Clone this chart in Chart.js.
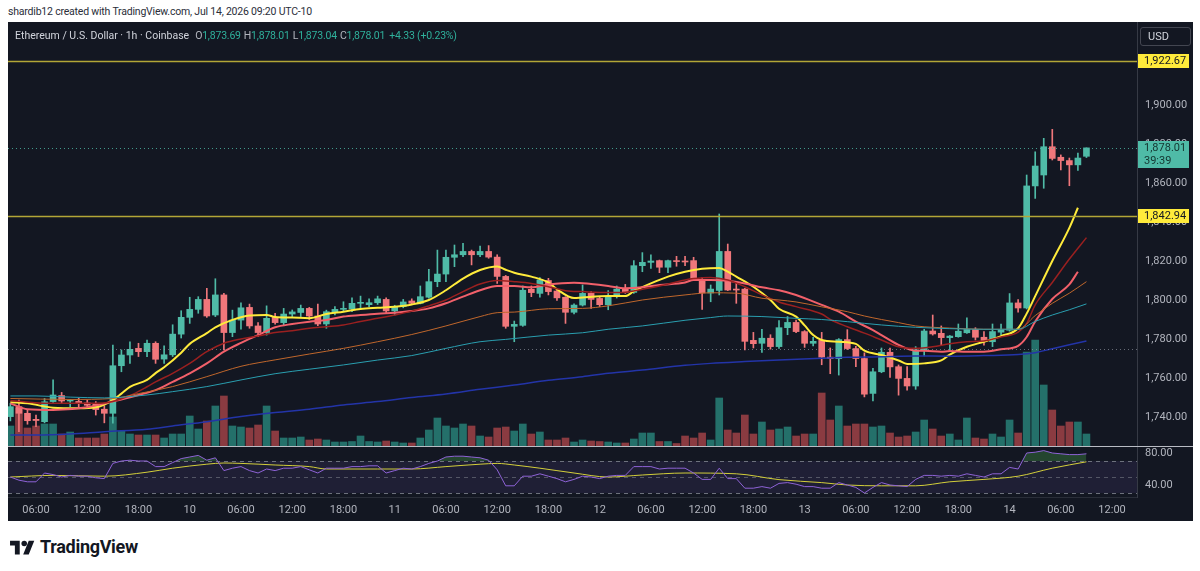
<!DOCTYPE html>
<html lang="en">
<head>
  <meta charset="UTF-8">
  <title>Ethereum / U.S. Dollar · 1h · Coinbase</title>
  <script src="https://cdn.jsdelivr.net/npm/chart.js@4.4.1/dist/chart.umd.min.js"></script>
  <style>
    body { margin: 0; background: #fff; font-family: Roboto, "Noto Sans", Arial, sans-serif; }
    #page { position: relative; width: 1200px; height: 571px; overflow: hidden; }
    #credit { position: absolute; left: 8px; top: 5px; font-size: 10.5px; letter-spacing: -0.2px; color: #2a2e39; }
    #panel { position: absolute; left: 8px; top: 22px; width: 1185px; height: 499px; background: #131722; overflow: hidden; }
    #legend { position: absolute; left: 7px; top: 7px; font-size: 10.5px; color: #d1d4dc; white-space: nowrap; z-index: 2; }
    #legend .k { color: #b2b5be; margin-left: 3px; letter-spacing: -0.2px; }
    #legend .v { color: #2fb09b; letter-spacing: -0.2px; }
    #usd { position: absolute; left: 1132px; top: 5px; width: 42px; height: 17px; border: 1px solid #434651;
           border-radius: 3px; color: #d1d4dc; font-size: 11px; line-height: 17px; padding-left: 7px; z-index: 2; }
    canvas { position: absolute; left: 0; }
    #mainChart { top: -16px; }
    #rsiChart { top: 410px; }
    #sep { position: absolute; left: 0; top: 424px; width: 1185px; height: 1px; background: #b9bcc4; z-index: 2; }
    #logo { position: absolute; left: 10px; top: 536px; display: flex; align-items: center; gap: 5px;
            font-size: 18px; font-weight: 700; color: #131722; letter-spacing: -0.3px; }
  </style>
</head>
<body>
<div id="page">
  <div id="credit">shardib12 created with TradingView.com, Jul 14, 2026 09:20 UTC-10</div>
  <div id="panel">
    <div id="legend"><span>Ethereum / U.S. Dollar · 1h · Coinbase</span><span class="k" style="margin-left:6px">O</span><span class="v">1,873.69</span><span class="k">H</span><span class="v">1,878.01</span><span class="k">L</span><span class="v">1,873.04</span><span class="k">C</span><span class="v">1,878.01</span><span class="v" style="margin-left:4px">+4.33 (+0.23%)</span></div>
    <div id="usd">USD</div>
    <canvas id="mainChart" width="1185" height="456"></canvas>
    <canvas id="rsiChart" width="1185" height="90"></canvas>
    <div id="sep"></div>
  </div>
  <div id="logo">
    <svg width="25" height="18" viewBox="0 0 36 26"><path d="M14 24H7V11H0V4h14z" fill="#131722"/><circle cx="20.5" cy="8" r="4" fill="#131722"/><path d="M27 24h-8l8-20h8z" fill="#131722"/></svg>
    <span>TradingView</span>
  </div>
</div>

<script>
  // 1h candles, Jul 9 03:00 -> Jul 14 09:00 (index 0..126)
  const openP = [
    1740.2,1745.3,1741.9,1738.8,1737.6,1747.9,1751.0,1748.2,1748.0,1747.2,
    1746.5,1744.0,1741.9,1766.3,1771.8,1775.2,1773.5,1777.8,1769.7,1771.9,
    1782.5,1791.1,1795.2,1800.3,1792.3,1802.6,1783.3,1789.7,1796.2,1786.7,
    1783.3,1791.2,1788.4,1792.8,1793.6,1795.7,1791.8,1787.7,1794.0,1795.2,
    1795.4,1798.3,1797.6,1798.6,1800.3,1794.4,1796.6,1799.5,1798.3,1801.4,
    1809.4,1813.3,1821.9,1823.2,1824.9,1823.2,1824.9,1822.0,1812.1,1786.5,
    1787.0,1805.5,1803.4,1810.0,1804.6,1801.4,1793.7,1797.4,1803.4,1800.8,
    1797.6,1801.7,1805.6,1803.9,1817.6,1819.3,1820.2,1816.8,1820.2,1820.0,
    1820.2,1810.6,1803.6,1804.9,1824.9,1805.6,1805.6,1779.3,1777.8,1780.4,
    1776.1,1785.8,1788.5,1783.8,1777.8,1779.3,1770.7,1769.9,1779.7,1775.1,
    1770.0,1752.1,1763.2,1773.2,1765.8,1759.8,1755.9,1774.4,1784.1,1782.9,
    1780.7,1781.2,1783.2,1784.9,1780.9,1778.6,1783.5,1784.5,1798.5,1795.9,
    1858.5,1864.1,1878.6,1873.2,1871.5,1869.3,1873.69
  ];
  const highP = [
    1747.0,1748.7,1743.6,1741.0,1749.5,1759.0,1752.6,1749.0,1749.6,1748.7,
    1747.9,1745.8,1776.9,1774.4,1778.6,1777.8,1779.5,1778.6,1776.5,1787.3,
    1794.5,1801.4,1801.7,1806.0,1810.9,1803.4,1794.8,1798.5,1797.9,1788.4,
    1797.0,1793.2,1795.7,1794.9,1797.4,1796.2,1797.9,1794.8,1796.6,1799.1,
    1801.1,1802.0,1800.6,1802.0,1801.1,1797.3,1800.3,1800.6,1807.2,1815.7,
    1825.6,1825.6,1828.2,1829.0,1825.6,1827.7,1827.9,1823.2,1812.6,1789.2,
    1807.2,1807.2,1811.5,1811.1,1805.8,1801.7,1798.0,1807.7,1804.3,1801.4,
    1804.8,1807.2,1808.0,1820.2,1824.3,1823.1,1820.5,1820.5,1822.4,1822.4,
    1821.9,1811.5,1807.7,1844.1,1828.7,1809.4,1806.0,1783.4,1785.0,1782.2,
    1789.4,1791.5,1789.7,1784.3,1780.8,1783.4,1775.4,1780.2,1784.8,1776.3,
    1772.9,1765.0,1775.4,1775.4,1766.7,1765.8,1776.1,1785.0,1792.3,1786.7,
    1781.8,1787.7,1790.8,1785.8,1783.8,1787.7,1787.7,1803.3,1800.2,1864.1,
    1876.0,1882.9,1887.5,1874.4,1872.8,1875.4,1878.01
  ];
  const lowP = [
    1738.0,1732.5,1736.3,1735.0,1737.0,1747.5,1747.0,1745.3,1744.4,1744.9,
    1741.0,1737.0,1736.8,1763.2,1767.5,1771.0,1771.0,1767.5,1767.5,1771.0,
    1780.5,1788.0,1793.2,1791.1,1791.5,1774.4,1781.2,1785.0,1785.5,1781.2,
    1782.0,1787.6,1787.2,1791.5,1791.5,1790.0,1786.8,1785.5,1792.3,1794.0,
    1794.0,1795.4,1796.6,1797.7,1793.2,1792.3,1796.0,1798.0,1798.0,1800.9,
    1806.8,1809.4,1817.1,1822.2,1818.0,1822.2,1821.4,1808.5,1785.5,1778.6,
    1786.5,1801.7,1801.4,1802.6,1799.8,1788.0,1792.8,1796.9,1795.7,1796.6,
    1795.0,1801.0,1803.4,1803.4,1814.5,1816.2,1814.0,1814.0,1817.3,1817.6,
    1810.3,1795.2,1799.1,1802.6,1804.8,1798.3,1774.4,1775.4,1773.1,1774.8,
    1775.2,1782.2,1783.3,1775.7,1776.5,1766.8,1762.2,1761.5,1774.6,1765.8,
    1750.3,1748.3,1762.7,1760.3,1751.2,1753.8,1754.2,1771.3,1782.0,1776.9,
    1774.4,1780.9,1782.9,1779.5,1776.9,1776.1,1782.0,1784.0,1793.7,1795.4,
    1852.1,1857.3,1871.8,1866.7,1858.6,1866.4,1873.04
  ];
  const closeP = [
    1745.3,1741.9,1738.1,1738.2,1747.8,1751.3,1748.2,1748.5,1747.1,1746.0,
    1743.8,1741.9,1766.3,1771.8,1774.7,1773.5,1777.8,1769.6,1771.9,1782.5,
    1791.1,1795.2,1800.3,1791.8,1802.6,1783.3,1789.7,1796.0,1786.7,1783.3,
    1790.6,1788.4,1792.8,1793.9,1795.7,1791.8,1787.7,1794.0,1795.2,1795.4,
    1798.3,1798.6,1798.6,1800.6,1794.4,1796.6,1799.0,1798.3,1801.7,1809.4,
    1813.3,1821.9,1823.2,1824.9,1823.2,1824.9,1822.0,1812.1,1786.5,1787.5,
    1805.0,1803.8,1810.3,1804.3,1801.1,1793.7,1797.4,1803.4,1800.3,1797.6,
    1801.7,1805.6,1803.9,1817.6,1819.3,1820.0,1816.8,1820.2,1819.7,1819.5,
    1810.6,1803.6,1805.6,1824.9,1805.1,1805.1,1778.8,1777.6,1780.4,1776.1,
    1785.8,1788.5,1783.8,1777.8,1778.8,1770.7,1769.9,1779.7,1775.1,1770.0,
    1751.7,1763.2,1773.2,1765.7,1759.8,1755.9,1774.4,1784.1,1782.6,1780.7,
    1781.5,1784.0,1784.9,1780.9,1778.6,1783.8,1784.9,1798.5,1795.9,1858.5,
    1868.7,1878.6,1872.6,1871.5,1869.3,1872.8,1878.01
  ];
  // relative volume
  const volume = [
    20,38,18,20,22,22,12,14,8,8,
    8,12,29,15,12,11,11,11,8,12,
    12,30,17,25,40,50,20,19,18,21,
    40,15,8,8,9,6,7,6,4,4,
    4.5,10,4.5,4,5,4,3,3,8,16,
    28,20,18,22,20,10,9,18,19,15,
    22,12,14,6,6,8,4,6,5,4.5,
    4,3,3,7,13,13,4.5,4.5,2.5,10,
    8,13,6,48,16,13,31,12,24,16,
    17,19,10,12,12,53,26,40,20,22,
    22,19,20,13,9,10,14,26,17,10,
    12,6,28,8,7,12,9,26,13,94,
    106,61,36,20,24,24,12
  ];
  const rsi = [
    50,46,44,44,55,53,50,52,51,51,
    49,48,67,70,71,70,70,63,63,68,
    73,75,77,71,74,58,61,63,58,55,
    60,58,61,61,63,59,55,61,61,61,
    63,63,64,64,55,58,61,60,63,67,
    70,75,76,76,75,74,71,59,39,39,
    51,51,54,51,48,44,47,51,50,48,
    51,52,52,63,63,63,60,61,61,61,
    55,47,47,61,48,48,36,36,38,36,
    42,43,41,38,38,36,36,43,40,37,
    30,37,43,40,39,38,47,52,52,51,
    52,51,54,52,50,54,54,62,60,80,
    81,83,80,79,78,78,79
  ];
  // RSI-based MA, sampled [candle index, value]
  const rsiMa = [[0,50],[5,52],[11,51],[16,56],[19,61],[23,66],[25,67.5],[27,67],[31,65],[35,63],[37,60],[43,60],[47,60],
    [51,63],[55,66],[57,67],[59,65],[62,61],[66,55],[70,50],[74,52.5],[79,55],[85,54],[90,46.7],[95,43],[98,40],
    [102,39],[106,39],[110,44],[114,47],[118,51],[122,61],[126,69]];

  // moving averages, sampled [candle index, price]
  const maYellow = [[0,1747.6],[2,1747],[5,1744.8],[8,1744.5],[10,1745],[12,1748.7],[13,1752],[14,1755.5],[16,1759],[17,1762.5],
    [18,1765.5],[20,1773],[21,1777.5],[23,1783],[24,1786],[26,1789.8],[28,1792],[30,1792.3],[31,1791.3],[33,1791],[35,1790.7],
    [37,1792.8],[39,1794],[41,1795.4],[43,1796],[45,1796.5],[47,1797.7],[49,1800],[51,1805],[53,1811],[55,1815.4],[57,1817.2],
    [58,1815.5],[59,1814],[61,1812],[63,1809],[64,1805.5],[66,1801],[67,1801.3],[70,1802],[72,1802],[73,1804.5],[75,1808.5],
    [77,1812],[79,1814.5],[81,1816],[83,1816.4],[84,1814.5],[85,1812],[87,1806.8],[89,1800],[90,1795.5],[92,1791.5],[93,1787],
    [94,1782],[95,1779.5],[97,1778.6],[99,1777.5],[100,1774],[102,1771.8],[104,1769],[105,1767.2],[107,1767.5],[109,1769],
    [110,1772],[112,1776],[114,1778.6],[116,1781.5],[118,1785.5],[119,1793],[120,1802],[122,1820],[124,1837],[125,1847.3]];
  const maRed = [[0,1747],[2,1744],[5,1743.6],[9,1745],[12,1748],[15,1751.3],[17,1753.8],[19,1758],[21,1762.4],[23,1767.5],
    [25,1773.5],[27,1778],[29,1782],[31,1786],[33,1787.7],[35,1788.9],[37,1789.7],[39,1791.5],[41,1792.3],[43,1793],[45,1793.5],
    [47,1794.3],[49,1795.7],[51,1798.3],[53,1801.7],[55,1805],[57,1807.2],[59,1807.2],[61,1806.5],[63,1808],[66,1808.9],
    [68,1808.2],[70,1807.2],[72,1806],[74,1806.5],[76,1807.7],[79,1809],[80,1810.3],[82,1810.3],[84,1809.9],[86,1808.5],
    [88,1806.5],[90,1805],[92,1802.6],[95,1797.5],[97,1794],[99,1788.9],[101,1784.6],[102,1782],[104,1777],[106,1774],
    [107,1774],[109,1773.5],[110,1773.8],[112,1773.5],[114,1773.5],[116,1774.7],[118,1776.5],[119,1781],[120,1789],
    [122,1800.5],[124,1808],[125,1814.5]];
  const maDarkRed = [[0,1748.5],[4,1747],[10,1747],[12,1748],[14,1751],[16,1755.5],[17,1758],[19,1762.4],[21,1767.5],[23,1773.5],
    [25,1777.8],[27,1780],[29,1781.5],[31,1783.3],[33,1784.2],[35,1785.5],[37,1786.3],[39,1787.2],[41,1789],[43,1790.6],
    [45,1792.3],[47,1794.3],[49,1797],[51,1800],[53,1804.3],[55,1808.2],[57,1810],[59,1809.4],[61,1808.5],[63,1806.8],
    [65,1804.8],[67,1804.3],[70,1803.8],[72,1804],[74,1805.5],[76,1807.2],[79,1810.3],[80,1811],[82,1811.6],[84,1810.3],
    [86,1806.8],[88,1802.6],[90,1799],[92,1796.6],[95,1792.8],[96,1790],[98,1786.3],[100,1783],[102,1779.5],[104,1776],
    [106,1775.2],[108,1776],[110,1777.6],[112,1778.6],[114,1779],[116,1781],[118,1783.5],[119,1788],[120,1797.5],
    [122,1809],[124,1821],[126,1832]];
  const maOrange = [[0,1749.5],[7,1749],[12,1749.5],[15,1752],[19,1755.6],[23,1760.7],[27,1766],[31,1769.3],[35,1772.3],
    [39,1775.2],[43,1778.6],[47,1782.3],[51,1786.7],[55,1791.5],[57,1793.5],[59,1793.8],[63,1795.5],[67,1795.7],[70,1797],
    [74,1800],[79,1802.6],[82,1803.7],[85,1803.5],[88,1800.9],[90,1800],[92,1799],[95,1796.5],[98,1794],[100,1791.8],
    [102,1790],[104,1788.4],[106,1786.7],[108,1786],[110,1785.6],[114,1785],[118,1785],[120,1792],[122,1798.3],
    [124,1803.5],[126,1809.4]];
  const maTeal = [[0,1750.8],[3,1750.8],[7,1750.2],[11,1749.8],[16,1751.3],[19,1753],[23,1755.6],[27,1759],[31,1762.2],
    [35,1764.5],[39,1766.7],[43,1769.2],[47,1771.5],[51,1775.2],[55,1778.6],[58,1779.8],[63,1782],[67,1783.2],[70,1785],
    [74,1786.7],[79,1789.6],[82,1791],[84,1791.8],[88,1791.5],[92,1790.6],[95,1790],[98,1788.9],[102,1787.2],[106,1786],
    [110,1785.3],[114,1785],[118,1785],[120,1789],[122,1792.3],[124,1795],[126,1798]];
  const maBlue = [[0,1730.8],[3,1730.8],[7,1731.3],[11,1732.5],[16,1733.7],[19,1735.4],[23,1737.6],[27,1740.2],[31,1742.3],
    [35,1744],[39,1746.2],[43,1747.9],[47,1750],[51,1751.8],[55,1754.2],[59,1756.4],[63,1758.8],[67,1760.7],[70,1762.4],
    [74,1764.1],[79,1766.5],[82,1767.5],[86,1768.4],[90,1769.2],[95,1770.1],[98,1770.6],[102,1770.9],[106,1771.3],
    [110,1771.2],[114,1771.5],[118,1772],[120,1773],[122,1775],[124,1777],[126,1779]];

  const levels = [1922.67, 1842.94];   // yellow horizontal lines
  const refLevel = 1775;               // faint dotted line
  const lastPrice = 1878.01, countdown = '39:39';
  const priceTicks = [1740, 1760, 1780, 1800, 1820, 1840, 1860, 1880, 1900];
  const rsiTicks = [40, 80];
  const rsiLevels = [30, 50, 70];
  // time axis: first label (Jul 9 06:00) at candle 3, then every 6 hours
  const timeLabels = ['06:00','12:00','18:00','10','06:00','12:00','18:00','11','06:00','12:00','18:00','12',
                      '06:00','12:00','18:00','13','06:00','12:00','18:00','14','06:00','12:00'];
  const timeTickPos = timeLabels.map((_, k) => 3 + 6 * k);

  const UP = '#4fbba7', DOWN = '#f0777b', VOL_UP = '#24706a', VOL_DOWN = '#8a3b41';
  const X_MIN = -0.28, X_MAX = 131.92;

  Chart.defaults.font.family = 'Roboto, "Noto Sans", sans-serif';
  Chart.defaults.font.size = 11;
  Chart.defaults.color = '#b2b5be';
  Chart.defaults.animation = false;

  const isUp = closeP.map((c, i) => c >= openP[i]);
  const fmt = v => v.toLocaleString('en-US', { minimumFractionDigits: 2, maximumFractionDigits: 2 });
  const pts = arr => arr.map(([x, y]) => ({ x, y }));
  const lineDs = (data, color, width) => ({
    type: 'line', data: pts(data), borderColor: color, borderWidth: width, pointRadius: 0,
    cubicInterpolationMode: 'monotone', order: 0
  });

  const mainOverlay = {
    id: 'mainOverlay',
    afterDatasetsDraw(chart) {
      const { ctx, chartArea: a, scales: { y } } = chart;
      const hline = v => {
        const py = Math.round(y.getPixelForValue(v)) + 0.5;
        ctx.beginPath(); ctx.moveTo(a.left, py); ctx.lineTo(a.right, py); ctx.stroke();
      };
      ctx.save();
      ctx.beginPath(); ctx.rect(a.left, a.top, a.width, a.height); ctx.clip();
      ctx.lineWidth = 1;
      ctx.setLineDash([1, 3]);
      ctx.strokeStyle = 'rgba(160,164,175,0.6)'; hline(refLevel);
      ctx.strokeStyle = 'rgba(79,187,167,0.8)'; hline(lastPrice);
      ctx.setLineDash([]);
      ctx.lineWidth = 1.5; ctx.strokeStyle = '#b3a637';
      levels.forEach(hline);
      ctx.restore();
    },
    afterDraw(chart) {
      const { ctx, chartArea: a, scales: { y } } = chart;
      const bx = a.right + 1, bw = 51;
      ctx.save();
      ctx.font = '11px Roboto, sans-serif';
      ctx.textBaseline = 'middle';
      levels.forEach(v => {
        const py = Math.round(y.getPixelForValue(v));
        ctx.fillStyle = '#ffeb3b'; ctx.fillRect(bx, py - 7, bw, 14);
        ctx.fillStyle = '#131722'; ctx.fillText(fmt(v), bx + 6, py + 0.5);
      });
      const py = Math.round(y.getPixelForValue(lastPrice));
      ctx.fillStyle = UP; ctx.fillRect(bx, py - 7, bw, 27);
      ctx.fillStyle = '#143530';
      ctx.fillText(fmt(lastPrice), bx + 6, py + 0.5);
      ctx.fillText(countdown, bx + 6, py + 13);
      ctx.restore();
    }
  };

  new Chart(document.getElementById('mainChart'), {
    type: 'bar',
    data: {
      datasets: [
        { label: 'Volume', yAxisID: 'yv', data: volume.map((v, i) => ({ x: i, y: v })),
          backgroundColor: isUp.map(u => u ? VOL_UP : VOL_DOWN), barThickness: 7, grouped: false, order: 20 },
        { label: 'Wick', data: highP.map((h, i) => ({ x: i, y: [lowP[i], h] })),
          backgroundColor: isUp.map(u => u ? UP : DOWN), barThickness: 1, grouped: false, order: 10 },
        { label: 'Body', data: openP.map((o, i) => ({ x: i, y: [o, closeP[i]] })),
          backgroundColor: isUp.map(u => u ? UP : DOWN), barThickness: 6, minBarLength: 1, grouped: false, order: 9 },
        lineDs(maBlue, '#2334a8', 1.5),
        lineDs(maTeal, '#2a9fb0', 1),
        lineDs(maOrange, '#c0672c', 1),
        lineDs(maDarkRed, '#9a2020', 1.5),
        lineDs(maRed, '#f2606a', 2),
        lineDs(maYellow, '#ffeb3b', 2)
      ]
    },
    options: {
      responsive: false, devicePixelRatio: 1, events: [],
      // tick labels force ~15px of padding; give 16px and shift the canvas so the plot area is 424px tall
      layout: { padding: { top: 16, bottom: 16, left: 0, right: 0 } },
      plugins: { legend: { display: false }, tooltip: { enabled: false } },
      scales: {
        x: { type: 'linear', min: X_MIN, max: X_MAX, offset: false, display: false, grid: { display: false } },
        y: {
          position: 'right', min: 1725.13, max: 1942.56,
          afterBuildTicks: s => { s.ticks = priceTicks.map(v => ({ value: v })); },
          afterFit: s => { s.width = 56; },
          ticks: { padding: 8, callback: v => fmt(v) },
          grid: { display: false, drawTicks: false },
          border: { display: true, color: '#363a45' }
        },
        yv: { display: false, min: 0, max: 424 }
      }
    },
    plugins: [mainOverlay]
  });

  const rsiBands = {
    id: 'rsiBands',
    beforeDatasetsDraw(chart) {
      const { ctx, chartArea: a, scales: { y } } = chart;
      const top = y.getPixelForValue(rsiLevels[2]), bot = y.getPixelForValue(rsiLevels[0]);
      ctx.save();
      ctx.fillStyle = 'rgba(126,87,194,0.12)';
      ctx.fillRect(a.left, top, a.width, bot - top);
      ctx.setLineDash([4, 4]); ctx.lineWidth = 1;
      rsiLevels.forEach(v => {
        const py = Math.round(y.getPixelForValue(v)) + 0.5;
        ctx.strokeStyle = v === 50 ? 'rgba(120,123,134,0.6)' : 'rgba(120,123,134,0.9)';
        ctx.beginPath(); ctx.moveTo(a.left, py); ctx.lineTo(a.right, py); ctx.stroke();
      });
      ctx.restore();
    }
  };

  new Chart(document.getElementById('rsiChart'), {
    type: 'line',
    data: {
      datasets: [
        { data: rsi.map((v, i) => ({ x: i, y: v })), borderColor: '#8e63d6', borderWidth: 1, pointRadius: 0,
          fill: { target: { value: 70 }, above: 'rgba(76,175,80,0.3)', below: 'rgba(0,0,0,0)' } },
        { data: pts(rsiMa), borderColor: '#d3cf3a', borderWidth: 1, pointRadius: 0, cubicInterpolationMode: 'monotone' }
      ]
    },
    options: {
      responsive: false, devicePixelRatio: 1, events: [],
      layout: { padding: { top: 15, left: 0, right: 0, bottom: 0 } },
      plugins: { legend: { display: false }, tooltip: { enabled: false } },
      scales: {
        x: {
          type: 'linear', min: X_MIN, max: X_MAX, offset: false,
          afterBuildTicks: s => { s.ticks = timeTickPos.map(v => ({ value: v })); },
          afterFit: s => { s.height = 25; },
          ticks: { autoSkip: false, maxRotation: 0, padding: 7, callback: (v, k) => timeLabels[k] },
          grid: { display: false, drawTicks: false },
          border: { display: true, color: '#2a2e39' }
        },
        y: {
          position: 'right', min: 25, max: 87.5,
          afterBuildTicks: s => { s.ticks = rsiTicks.map(v => ({ value: v })); },
          afterFit: s => { s.width = 56; },
          ticks: { padding: 8, callback: v => v.toFixed(2) },
          grid: { display: false, drawTicks: false },
          border: { display: true, color: '#363a45' }
        }
      }
    },
    plugins: [rsiBands]
  });
</script>
</body>
</html>
